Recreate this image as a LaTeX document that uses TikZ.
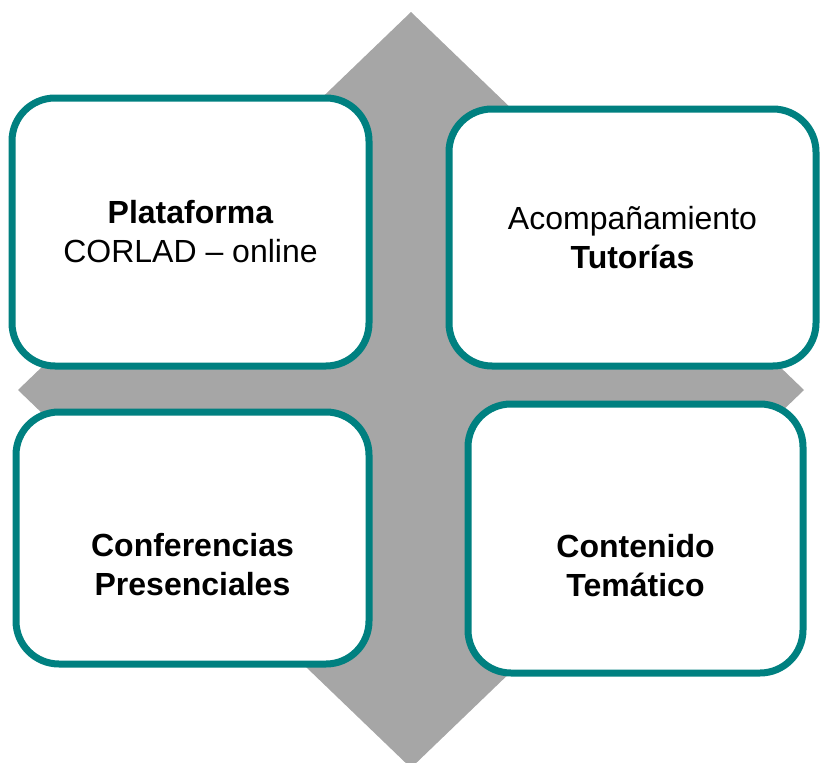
\documentclass[tikz,border=0pt]{standalone}
\usepackage{fontspec}
\setmainfont{Liberation Sans}
\usetikzlibrary{shapes.geometric,positioning}
\definecolor{tealline}{RGB}{0,128,128}
\definecolor{hubgray}{RGB}{166,166,166}
\tikzset{
	card/.style={
		rectangle,
		rounded corners=43pt,
		draw=tealline,
		line width=7pt,
		fill=white,
		align=center,
		inner sep=0pt,
		font=\fontsize{32}{39}\selectfont
	},
	lowcard/.style={
		card,
		text height=116pt
	}
}

\begin{document}
\begin{tikzpicture}[x=1pt,y=-1pt]
		\useasboundingbox (0,0) rectangle (820,763);
		\tikzstyle{hub}=[fill=hubgray]
		
		% gray diamond behind the four cards
		\fill[hub] (411,12) -- (804,390) -- (411,768) -- (18,390) -- cycle;
		
		\node[card, minimum width=357pt, minimum height=268pt] (plat) at (190.5,232) {\textbf{Plataforma}\\CORLAD – online};
		\node[card, minimum width=367pt, minimum height=257pt] (tut) at (632.5,237.5) {Acompañamiento\\\textbf{Tutorías}};
		\node[lowcard, minimum width=353pt, minimum height=252pt] (conf) at (192.5,538) {\textbf{Conferencias}\\\textbf{Presenciales}};
		\node[lowcard, minimum width=335pt, minimum height=269pt] (cont) at (635.5,538.5) {\textbf{Contenido}\\\textbf{Temático}};
		
\end{tikzpicture}
\end{document}
